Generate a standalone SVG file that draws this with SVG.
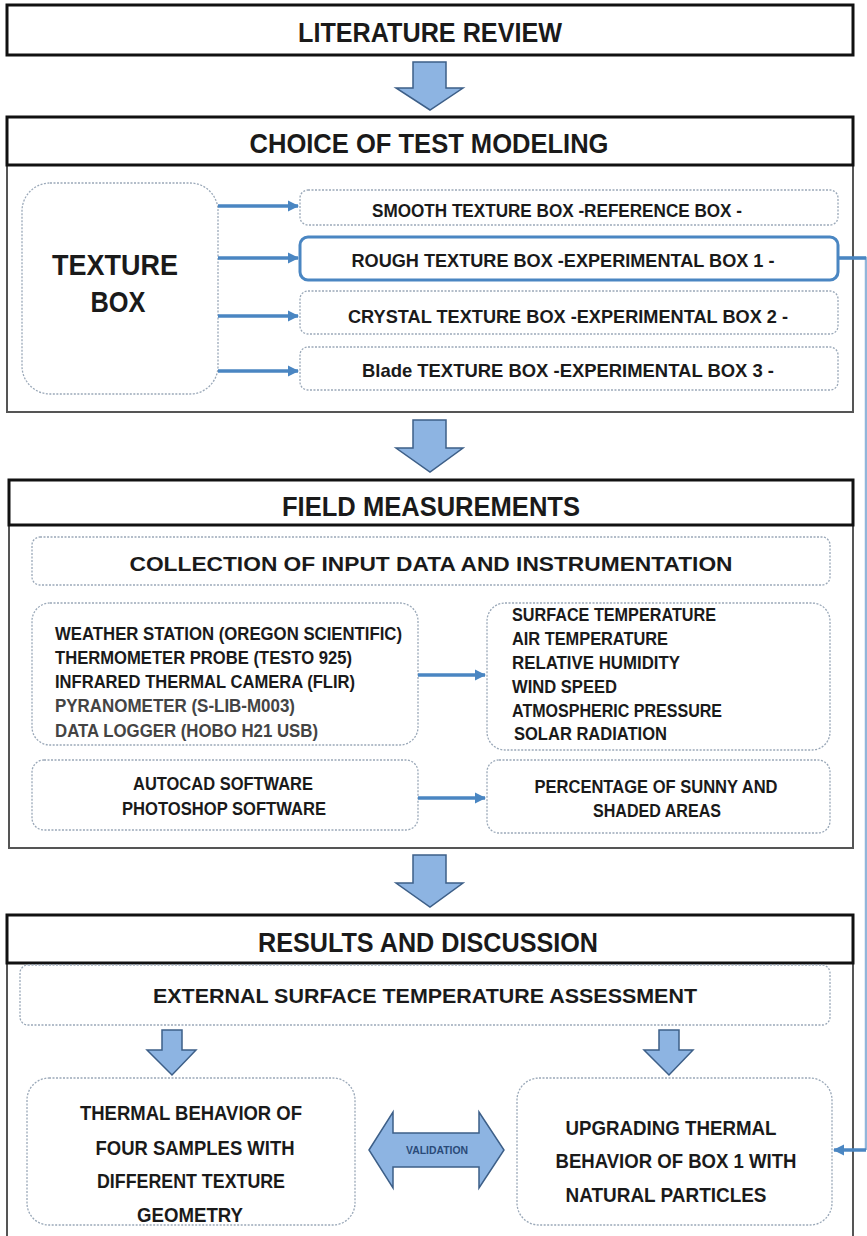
<svg xmlns="http://www.w3.org/2000/svg" width="867" height="1236" viewBox="0 0 867 1236">
<style>
text{font-family:"Liberation Sans",Arial,sans-serif;font-weight:bold;fill:#1a1a1a}
.h{font-size:27px;text-anchor:middle}
.m{font-size:18.5px;text-anchor:middle}
.l{font-size:18px}
.b{font-size:20px;text-anchor:middle}
.hdr{fill:#fff;stroke:#111;stroke-width:3}
.cnt{fill:#fff;stroke:#555;stroke-width:2}
.dot{fill:#fff;stroke:#9aa8b8;stroke-width:1.3;stroke-dasharray:2 1.5}
.big{fill:#8db4e2;stroke:#3d5f88;stroke-width:1.5}
.con{stroke:#4a86c2;stroke-width:3.5;fill:none}
</style>
<defs>
<marker id="ah" viewBox="0 0 10 10" refX="9" refY="5" markerWidth="3.2" markerHeight="3.2" orient="auto" markerUnits="strokeWidth">
<path d="M0,0 L10,5 L0,10 z" fill="#4a86c2"/>
</marker>
</defs>

<g id="literature">
<rect class="hdr" x="7" y="5" width="846" height="50"/>
<text class="h" x="430" y="42" textLength="264" lengthAdjust="spacingAndGlyphs">LITERATURE REVIEW</text>
</g>

<g id="choice">
<rect class="cnt" x="7" y="165" width="846" height="247"/>
<rect class="hdr" x="7" y="117" width="846" height="48"/>
<text class="h" x="429" y="153" textLength="359" lengthAdjust="spacingAndGlyphs">CHOICE OF TEST MODELING</text>
</g>

<g id="texture-box">
<rect class="dot" x="22" y="183" width="196" height="211" rx="28"/>
<text x="115" y="275" style="font-size:30px;text-anchor:middle" textLength="126" lengthAdjust="spacingAndGlyphs">TEXTURE</text>
<text x="118" y="312" style="font-size:30px;text-anchor:middle" textLength="55" lengthAdjust="spacingAndGlyphs">BOX</text>
</g>

<g id="smooth">
<rect class="dot" x="300" y="190" width="538" height="35" rx="8"/>
<text class="m" x="557" y="217" textLength="370" lengthAdjust="spacingAndGlyphs">SMOOTH TEXTURE BOX -REFERENCE BOX -</text>
</g>
<g id="rough">
<rect x="300" y="237" width="538" height="43" rx="8" fill="#fff" stroke="#4a86c2" stroke-width="3"/>
<text class="m" x="563" y="267" textLength="423" lengthAdjust="spacingAndGlyphs">ROUGH TEXTURE BOX -EXPERIMENTAL BOX 1 -</text>
</g>
<g id="crystal">
<rect class="dot" x="300" y="291" width="538" height="43" rx="8"/>
<text class="m" x="568" y="323" textLength="440" lengthAdjust="spacingAndGlyphs">CRYSTAL TEXTURE BOX -EXPERIMENTAL BOX 2 -</text>
</g>
<g id="blade">
<rect class="dot" x="300" y="347" width="538" height="43" rx="8"/>
<text class="m" x="568" y="377" textLength="412" lengthAdjust="spacingAndGlyphs">Blade TEXTURE BOX -EXPERIMENTAL BOX 3 -</text>
</g>

<g id="field">
<rect class="cnt" x="9" y="525" width="844" height="323"/>
<rect class="hdr" x="9" y="480" width="844" height="45"/>
<text class="h" x="431" y="516" textLength="298" lengthAdjust="spacingAndGlyphs">FIELD MEASUREMENTS</text>
</g>

<g id="collection">
<rect class="dot" x="32" y="537" width="798" height="48" rx="8"/>
<text class="b" x="431" y="571" textLength="603" lengthAdjust="spacingAndGlyphs">COLLECTION OF INPUT DATA AND INSTRUMENTATION</text>
</g>

<g id="instruments">
<rect class="dot" x="32" y="603" width="386" height="142" rx="18"/>
<text class="l" x="55" y="640" textLength="347" lengthAdjust="spacingAndGlyphs">WEATHER STATION (OREGON SCIENTIFIC)</text>
<text class="l" x="55" y="664" textLength="297" lengthAdjust="spacingAndGlyphs">THERMOMETER PROBE (TESTO 925)</text>
<text class="l" x="55" y="688" textLength="300" lengthAdjust="spacingAndGlyphs">INFRARED THERMAL CAMERA (FLIR)</text>
<text class="l" x="55" y="712" textLength="240" lengthAdjust="spacingAndGlyphs" style="fill:#444">PYRANOMETER (S-LIB-M003)</text>
<text class="l" x="55" y="737" textLength="263" lengthAdjust="spacingAndGlyphs" style="fill:#444">DATA LOGGER (HOBO H21 USB)</text>
</g>

<g id="parameters">
<rect class="dot" x="487" y="603" width="343" height="147" rx="18"/>
<text class="l" x="512" y="621" textLength="204" lengthAdjust="spacingAndGlyphs">SURFACE TEMPERATURE</text>
<text class="l" x="512" y="645" textLength="156" lengthAdjust="spacingAndGlyphs">AIR TEMPERATURE</text>
<text class="l" x="512" y="669" textLength="168" lengthAdjust="spacingAndGlyphs">RELATIVE HUMIDITY</text>
<text class="l" x="512" y="693" textLength="105" lengthAdjust="spacingAndGlyphs">WIND SPEED</text>
<text class="l" x="512" y="717" textLength="210" lengthAdjust="spacingAndGlyphs">ATMOSPHERIC PRESSURE</text>
<text class="l" x="514" y="740" textLength="153" lengthAdjust="spacingAndGlyphs">SOLAR RADIATION</text>
</g>

<g id="software">
<rect class="dot" x="32" y="760" width="386" height="70" rx="12"/>
<text class="m" x="223" y="790" textLength="180" lengthAdjust="spacingAndGlyphs">AUTOCAD SOFTWARE</text>
<text class="m" x="224" y="815" textLength="204" lengthAdjust="spacingAndGlyphs">PHOTOSHOP SOFTWARE</text>
</g>

<g id="percentage">
<rect class="dot" x="487" y="760" width="343" height="73" rx="12"/>
<text class="m" x="656" y="793" textLength="243" lengthAdjust="spacingAndGlyphs">PERCENTAGE OF SUNNY AND</text>
<text class="m" x="657" y="817" textLength="128" lengthAdjust="spacingAndGlyphs">SHADED AREAS</text>
</g>

<g id="results">
<rect class="cnt" x="7" y="963" width="846" height="280"/>
<rect class="hdr" x="7" y="915" width="846" height="48"/>
<text class="h" x="428" y="952" textLength="340" lengthAdjust="spacingAndGlyphs">RESULTS AND DISCUSSION</text>
</g>

<g id="external">
<rect class="dot" x="20" y="965" width="810" height="60" rx="8"/>
<text class="b" x="425" y="1003" textLength="544" lengthAdjust="spacingAndGlyphs">EXTERNAL SURFACE TEMPERATURE ASSESSMENT</text>
</g>

<g id="thermal">
<rect class="dot" x="27" y="1078" width="328" height="147" rx="22"/>
<text class="b" x="191" y="1120" textLength="222" lengthAdjust="spacingAndGlyphs">THERMAL BEHAVIOR OF</text>
<text class="b" x="195" y="1155" textLength="199" lengthAdjust="spacingAndGlyphs">FOUR SAMPLES WITH</text>
<text class="b" x="191" y="1188" textLength="188" lengthAdjust="spacingAndGlyphs">DIFFERENT TEXTURE</text>
<text class="b" x="190" y="1222" textLength="106" lengthAdjust="spacingAndGlyphs">GEOMETRY</text>
</g>

<g id="upgrading">
<rect class="dot" x="517" y="1078" width="315" height="147" rx="22"/>
<text class="b" x="671" y="1135" textLength="211" lengthAdjust="spacingAndGlyphs">UPGRADING THERMAL</text>
<text class="b" x="676" y="1168" textLength="241" lengthAdjust="spacingAndGlyphs">BEHAVIOR OF BOX 1 WITH</text>
<text class="b" x="666" y="1202" textLength="201" lengthAdjust="spacingAndGlyphs">NATURAL PARTICLES</text>
</g>

<g id="connectors">
<path class="big" d="M413,62 H446 V88 H463 L430,110 L396,88 H413 Z"/>
<path class="big" d="M413,420 H446 V448 H463 L430,472 L396,448 H413 Z"/>
<path class="big" d="M413,855 H446 V883 H463 L430,907 L396,883 H413 Z"/>
<path class="big" d="M162,1030 H182 V1050 H196 L172,1075 L147,1050 H162 Z"/>
<path class="big" d="M659,1030 H679 V1050 H693 L669,1075 L644,1050 H659 Z"/>
<path class="big" d="M369,1150 L393,1112 V1133 H479 V1112 L504,1150 L479,1188 V1167 H393 V1188 Z"/>
<text x="437" y="1154" style="font-size:10px;text-anchor:middle;fill:#2a4a78" textLength="62" lengthAdjust="spacingAndGlyphs">VALIDATION</text>
<line class="con" x1="218" y1="206" x2="298" y2="206" marker-end="url(#ah)"/>
<line class="con" x1="218" y1="258" x2="298" y2="258" marker-end="url(#ah)"/>
<line class="con" x1="218" y1="316" x2="298" y2="316" marker-end="url(#ah)"/>
<line class="con" x1="218" y1="371" x2="298" y2="371" marker-end="url(#ah)"/>
<line class="con" x1="418" y1="675" x2="485" y2="675" marker-end="url(#ah)"/>
<line class="con" x1="418" y1="798" x2="485" y2="798" marker-end="url(#ah)"/>
<path d="M838,258 H866 V1150" stroke="#4a86c2" stroke-width="2.5" fill="none" opacity="0.6"/>
<line x1="866" y1="258" x2="838" y2="258" stroke="#4a86c2" stroke-width="3.5"/>
<line class="con" x1="866" y1="1150" x2="834" y2="1150" marker-end="url(#ah)"/>
</g>
</svg>
